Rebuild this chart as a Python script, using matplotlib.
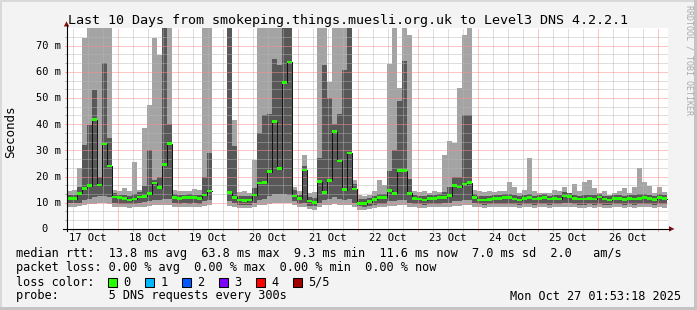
import numpy as np
import matplotlib
matplotlib.use("Agg")
import matplotlib.pyplot as plt
import matplotlib.transforms as mtransforms
from matplotlib.patches import Rectangle, Polygon
from matplotlib.lines import Line2D

nan = np.nan

# ---------------- data (2-hour bins, ms) ----------------
first_bin_day = 0.15          # days after 17 Oct 00:00
bin_days = 2.0 / 24.0

median_ms = [
    11.7, 11.5, 13.6, 15.5, 16.5, 41.7, 16.8, 32.4, 24.0, 12.2,
    11.9, 11.7, 11.1, 11.4, 12.2, 12.4, 13.5, 17.5, 15.8, 24.5,
    32.6, 12.0, 11.7, 11.9, 12.0, 11.9, 11.7, 13.0, 14.5, nan,
    nan, nan, 13.9, 12.0, 11.0, 10.8, 11.1, 13.0, 17.5, 17.8,
    21.9, 41.0, 23.0, 56.0, 63.8, 12.5, 11.7, 22.5, 10.7, 10.2,
    18.0, 13.9, 18.5, 37.2, 26.0, 15.0, 29.0, 15.3, 9.8, 9.6,
    10.4, 11.3, 11.9, 12.0, 14.6, 13.6, 22.3, 22.3, 13.6, 11.7,
    11.4, 11.1, 11.7, 11.7, 12.0, 12.0, 12.7, 16.5, 16.0, 17.2,
    17.7, 11.9, 11.1, 11.1, 11.3, 11.5, 11.7, 12.0, 11.9, 11.4,
    11.1, 11.7, 11.9, 11.4, 11.7, 11.9, 11.4, 11.7, 11.4, 12.6,
    12.4, 11.7, 11.4, 11.4, 11.7, 11.4, 12.2, 11.4, 11.1, 11.7,
    11.7, 11.3, 11.7, 11.4, 11.7, 12.0, 11.7, 11.3, 11.9, 11.6,
]

ping_hi_ms = [
    14.3, 15.0, 23.2, 73.0, 80, 80, 80, 80, 80, 15.0,
    14.3, 15.5, 14.3, 25.7, 15.0, 38.5, 47.4, 73.0, 66.5, 80,
    80, 15.0, 14.3, 14.6, 14.3, 15.3, 15.0, 80, 80, nan,
    nan, nan, 80, 41.7, 14.0, 14.3, 13.6, 26.4, 80, 80,
    80, 80, 80, 80, 80, 16.0, 14.5, 28.3, 13.6, 14.0,
    80, 80, 56.3, 80, 80, 80, 80, 18.7, 13.0, 12.4,
    12.8, 14.3, 18.7, 16.8, 63.0, 80, 53.8, 80, 74.0, 14.5,
    14.0, 14.3, 13.6, 14.3, 14.0, 28.3, 33.4, 33.0, 53.8, 74.0,
    80, 15.0, 14.3, 14.0, 14.6, 14.0, 14.3, 14.3, 18.1, 16.2,
    13.6, 14.9, 27.0, 14.3, 13.6, 13.6, 13.6, 14.9, 14.6, 16.0,
    13.6, 17.1, 14.3, 18.1, 18.7, 15.5, 13.6, 14.3, 13.0, 13.6,
    14.3, 15.5, 13.6, 16.2, 23.2, 18.1, 16.5, 13.6, 16.2, 14.0,
]

ping4_ms = [
    13.0, 13.0, 16.0, 32.1, 39.7, 53.1, 20.0, 63.3, 34.6, 13.6,
    13.0, 13.0, 12.4, 13.5, 14.0, 16.5, 30.2, 18.5, 20.0, 80,
    40.0, 13.5, 13.0, 13.0, 13.2, 13.0, 13.0, 20.0, 29.0, nan,
    nan, nan, 80, 31.5, 12.5, 12.4, 12.4, 15.5, 36.6, 43.6,
    44.0, 65.0, 62.7, 80, 80, 15.0, 13.0, 24.0, 12.0, 11.8,
    27.0, 62.7, 49.9, 40.0, 44.0, 60.8, 80, 17.0, 11.5, 11.3,
    11.8, 12.6, 13.5, 13.5, 22.0, 30.0, 49.0, 64.0, 19.0, 13.0,
    12.6, 12.4, 13.0, 13.0, 13.2, 14.0, 16.0, 20.0, 20.0, 43.5,
    43.5, 13.5, 12.4, 12.4, 12.6, 12.8, 13.0, 13.2, 13.5, 12.8,
    12.4, 13.0, 13.2, 12.6, 13.0, 13.2, 12.6, 13.0, 12.8, 14.0,
    13.6, 13.0, 12.6, 12.8, 13.0, 12.8, 13.4, 12.6, 12.4, 13.0,
    13.0, 12.6, 13.0, 12.8, 13.2, 13.4, 13.0, 12.6, 13.2, 12.9,
]

ping2_ms = [
    9.8, 9.8, 10.0, 11.0, 11.5, 12.0, 12.5, 12.5, 12.0, 9.8,
    9.6, 9.6, 9.4, 9.6, 10.0, 10.2, 10.5, 11.0, 11.0, 11.5,
    11.5, 9.8, 9.6, 9.8, 9.6, 9.8, 9.6, 10.5, 11.0, nan,
    nan, nan, 10.5, 10.0, 9.2, 9.0, 9.2, 10.0, 11.0, 11.5,
    12.5, 13.5, 13.5, 13.5, 13.0, 10.5, 9.6, 10.0, 8.8, 8.6,
    10.0, 11.0, 11.5, 12.0, 11.5, 11.0, 11.5, 10.0, 8.6, 8.5,
    8.8, 9.3, 9.6, 9.6, 10.5, 10.5, 11.0, 11.0, 10.0, 9.6,
    9.4, 9.2, 9.4, 9.6, 9.6, 9.8, 10.0, 10.5, 10.5, 11.0,
    11.0, 9.8, 9.4, 9.3, 9.4, 9.5, 9.6, 9.6, 9.6, 9.4,
    9.3, 9.5, 9.6, 9.3, 9.5, 9.6, 9.3, 9.5, 9.4, 9.8,
    9.8, 9.5, 9.3, 9.3, 9.5, 9.3, 9.6, 9.3, 9.2, 9.5,
    9.5, 9.3, 9.5, 9.3, 9.5, 9.6, 9.5, 9.3, 9.6, 9.4,
]

ping_lo_ms = [
    8.5, 8.5, 8.8, 9.2, 9.5, 9.5, 9.8, 9.8, 9.5, 8.5,
    8.3, 8.3, 8.0, 8.3, 8.5, 8.5, 8.8, 9.0, 9.0, 9.2,
    9.2, 8.5, 8.3, 8.5, 8.3, 8.5, 8.3, 8.8, 9.0, nan,
    nan, nan, 8.8, 8.5, 8.0, 7.8, 8.0, 8.5, 9.0, 9.2,
    9.5, 10.0, 10.0, 10.0, 9.8, 9.0, 8.3, 8.5, 7.6, 7.4,
    8.5, 9.0, 9.2, 9.5, 9.2, 9.0, 9.2, 8.5, 7.4, 7.3,
    7.6, 8.0, 8.3, 8.3, 8.8, 8.8, 9.2, 9.2, 8.5, 8.3,
    8.0, 8.0, 8.2, 8.3, 8.3, 8.5, 8.5, 8.8, 8.8, 9.0,
    9.0, 8.5, 8.2, 8.0, 8.2, 8.3, 8.3, 8.3, 8.3, 8.2,
    8.0, 8.3, 8.3, 8.0, 8.2, 8.3, 8.0, 8.3, 8.2, 8.5,
    8.5, 8.2, 8.0, 8.0, 8.3, 8.0, 8.3, 8.0, 7.8, 8.2,
    8.3, 8.0, 8.2, 8.0, 8.3, 8.3, 8.2, 8.0, 8.3, 8.1,
]

day_labels = ["17 Oct", "18 Oct", "19 Oct", "20 Oct", "21 Oct",
              "22 Oct", "23 Oct", "24 Oct", "25 Oct", "26 Oct"]
ytick_values = [0, 10, 20, 30, 40, 50, 60, 70]
ytick_labels = ["0  ", "10 m", "20 m", "30 m", "40 m", "50 m", "60 m", "70 m"]

loss_labels = ["0", "1", "2", "3", "4", "5/5"]
loss_colors = ["#26ff00", "#00b8ff", "#0059ff", "#7e00ff", "#ff0000", "#a10000"]

title = "Last 10 Days from smokeping.things.muesli.org.uk to Level3 DNS 4.2.2.1"
legend_rows = [
    "median rtt:  13.8 ms avg  63.8 ms max  9.3 ms min  11.6 ms now  7.0 ms sd  2.0   am/s",
    "packet loss: 0.00 % avg  0.00 % max  0.00 % min  0.00 % now",
    "loss color:",
    "probe:       5 DNS requests every 300s",
]
stamp = "Mon Oct 27 01:53:18 2025"

# ---------------- figure ----------------
W, H = 697, 310
MONO = "DejaVu Sans Mono"
fig = plt.figure(figsize=(W / 100, H / 100), dpi=100)
fig.patch.set_facecolor("#f3f3f3")


def fx(px):
    return px / W


def fy(py):
    return 1 - py / H


# frame
fig.patches.append(Rectangle((0, 0), fx(2), 1, transform=fig.transFigure,
                             facecolor="#d9d9d9", edgecolor="none", zorder=0))
fig.patches.append(Rectangle((0, fy(2)), 1, 2 / H, transform=fig.transFigure,
                             facecolor="#d9d9d9", edgecolor="none", zorder=0))
fig.patches.append(Rectangle((fx(694), 0), fx(3), 1, transform=fig.transFigure,
                             facecolor="#c4c4c4", edgecolor="none", zorder=0))
fig.patches.append(Rectangle((0, 0), 1, 3 / H, transform=fig.transFigure,
                             facecolor="#c4c4c4", edgecolor="none", zorder=0))

PX_LEFT, PX_RIGHT, PX_TOP, PX_BOT = 67, 668, 28.3, 228.9
PX_PER_MS = 2.617
ax = fig.add_axes([fx(PX_LEFT), fy(PX_BOT), (PX_RIGHT - PX_LEFT) / W, (PX_BOT - PX_TOP) / H])
ax.set_facecolor("white")
ax.set_xlim(first_bin_day, first_bin_day + (PX_RIGHT - PX_LEFT) / 60.0)
ax.set_ylim(0, (PX_BOT - PX_TOP) / PX_PER_MS)
for s in ax.spines.values():
    s.set_visible(False)

med = np.array(median_ms)
lo = np.array(ping_lo_ms)
p2 = np.array(ping2_ms)
p4 = np.array(ping4_ms)
hi = np.array(ping_hi_ms)
left = first_bin_day + np.arange(len(med)) * bin_days

ax.bar(left, hi - lo, bottom=lo, width=bin_days, align="edge",
       color="#a4a4a4", linewidth=0, antialiased=False, zorder=2)
ax.bar(left, p4 - p2, bottom=p2, width=bin_days, align="edge",
       color="#585858", linewidth=0, antialiased=False, zorder=2.1)

edges = np.append(left, left[-1] + bin_days)
ax.step(edges, np.append(med, med[-1]), where="post", color="#111111",
        lw=0.7, zorder=3)
sw = 0.5
ax.bar(left, 2 * sw, bottom=med - sw, width=bin_days, align="edge",
       color=loss_colors[0], linewidth=0, antialiased=False, zorder=3.5)

# grid
ax.set_xticks(np.arange(1, 11))
ax.set_xticks(np.arange(0.25, 10.2, 0.25), minor=True)
ax.set_yticks(ytick_values)
ax.set_yticks(np.arange(10 / 3, 76, 10 / 3), minor=True)
ax.set_axisbelow(False)
ax.grid(which="major", color="#ff8c8c", alpha=0.5, linestyle=(0, (1, 1)),
        lw=0.72, antialiased=False)
ax.grid(which="minor", color="#b4b4b4", alpha=0.45, linestyle=(0, (1, 1)),
        lw=0.72, antialiased=False)
ax.tick_params(which="both", direction="out", length=1.6, width=0.72,
               labelbottom=False, labelleft=False)
ax.tick_params(which="major", color="#ff8080")
ax.tick_params(which="minor", color="#a0a0a0")

# tick labels
xtr = ax.get_xaxis_transform()
for i, lab in enumerate(day_labels):
    ax.text(i + 0.5, -(241 - PX_BOT) / (PX_BOT - PX_TOP), lab, transform=xtr,
            ha="center", va="baseline", family=MONO, size=7.5, color="black")
ytr = mtransforms.blended_transform_factory(ax.transAxes, ax.transData)
for v, lab in zip(ytick_values, ytick_labels):
    ax.text((61 - PX_LEFT) / (PX_RIGHT - PX_LEFT), v - 3.4 / PX_PER_MS, lab,
            transform=ytr, ha="right", va="baseline", family=MONO, size=7.5,
            color="black")

# axis lines and arrows
fig.add_artist(Line2D([fx(63), fx(670)], [fy(PX_BOT), fy(PX_BOT)], color="black",
                      lw=0.8, transform=fig.transFigure))
fig.add_artist(Line2D([fx(66.5), fx(66.5)], [fy(231), fy(25)], color="black",
                      lw=0.8, transform=fig.transFigure))
fig.add_artist(Polygon([(fx(669), fy(226.2)), (fx(674.5), fy(PX_BOT)), (fx(669), fy(231.6))],
                       closed=True, facecolor="#8b1010", edgecolor="none",
                       transform=fig.transFigure))
fig.add_artist(Polygon([(fx(63.8), fy(26.5)), (fx(66.5), fy(21.3)), (fx(69.2), fy(26.5))],
                       closed=True, facecolor="#8b1010", edgecolor="none",
                       transform=fig.transFigure))

# texts
fig.text(fx(348.5), fy(24), title, ha="center", va="baseline", family=MONO,
         size=9.6, color="black")
fig.text(fx(10.5), fy(131.5), "Seconds", rotation=90, ha="center", va="center",
         family=MONO, size=9.0, color="black")
fig.text(fx(688.5), fy(5), "RRDTOOL / TOBI OETIKER", rotation=-90, ha="center",
         va="top", family=MONO, size=6.0, color="#aaaaaa")

row_base = [257.5, 271.5, 285.5, 299.5]
for y, s in zip(row_base, legend_rows):
    fig.text(fx(15.5), fy(y), s, ha="left", va="baseline", family=MONO,
             size=8.55, color="black")
fig.text(fx(680.5), fy(299.5), stamp, ha="right", va="baseline", family=MONO,
         size=8.55, color="black")

box_x = [108, 145, 182, 219, 256, 293]
for bx, c, lab in zip(box_x, loss_colors, loss_labels):
    fig.patches.append(Rectangle((fx(bx), fy(286.5)), 9 / W, 9 / H,
                                 transform=fig.transFigure, facecolor=c,
                                 edgecolor="black", lw=0.75))
    fig.text(fx(bx + 15.3), fy(285.5), lab, ha="left", va="baseline",
             family=MONO, size=8.55, color="black")

fig.savefig("out.png", dpi=100, facecolor=fig.get_facecolor())
